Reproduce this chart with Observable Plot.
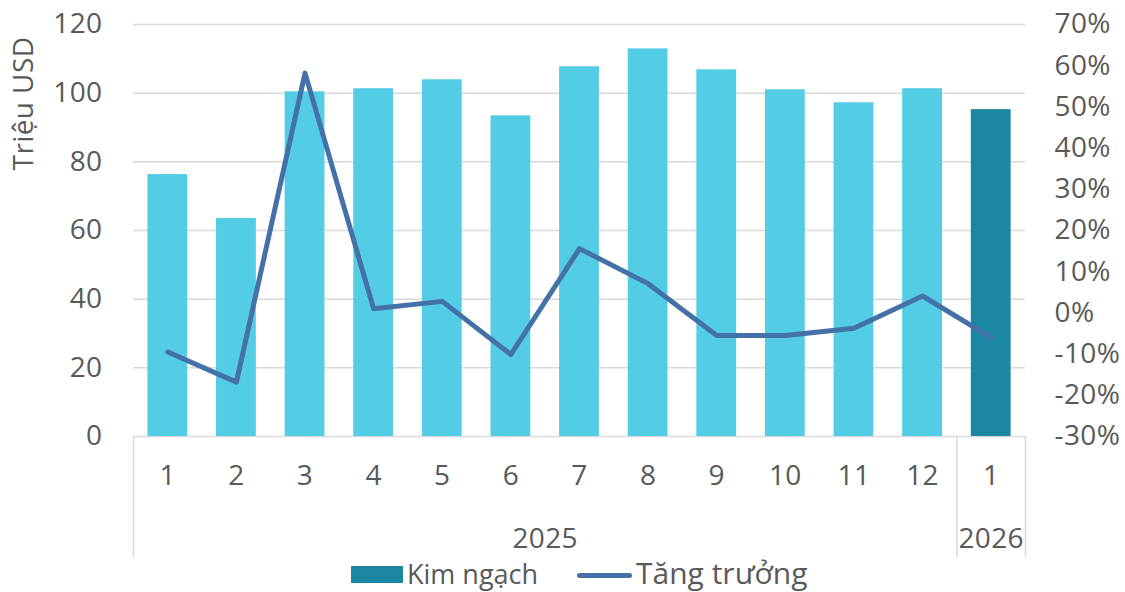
<!DOCTYPE html>
<html>
<head>
<meta charset="utf-8">
<script src="https://cdn.jsdelivr.net/npm/d3@7"></script>
<script src="https://cdn.jsdelivr.net/npm/@observablehq/plot@0.6"></script>
<style>
  html, body { margin: 0; padding: 0; background: #fff; }
  #wrap { position: relative; width: 1125px; height: 592px; font-family: "Open Sans", sans-serif; color: #595959; }
  #chart svg text { letter-spacing: 0.4px; }
  .lg { position: absolute; }
  .sw-bar { left: 351px; top: 566px; width: 52px; height: 17px; background: #1A88A2; }
  .sw-line { left: 577px; top: 573px; width: 55px; height: 5px; border-radius: 3px; background: #4472A8; }
  .l1 { left: 407px; top: 555px; font-size: 27px; line-height: 38px; }
  .l2 { left: 636px; top: 553px; font-size: 30px; line-height: 40px; }
</style>
</head>
<body>
<div id="wrap">
  <div id="chart"></div>
  <div class="lg sw-bar"></div><span class="lg l1">Kim ngạch</span>
  <div class="lg sw-line"></div><span class="lg l2">Tăng trưởng</span>
</div>
<script>
// ---- data ----
const months = ["1","2","3","4","5","6","7","8","9","10","11","12","1"];
const years  = ["2025","2025","2025","2025","2025","2025","2025","2025","2025","2025","2025","2025","2026"];
const kimNgach = [76.3, 63.5, 100.4, 101.3, 103.9, 93.4, 107.7, 112.9, 106.8, 101.0, 97.2, 101.3, 95.2]; // Triệu USD
const tangTruong = [-9.5, -16.8, 58.2, 1.0, 2.8, -10.1, 15.6, 7.1, -5.5, -5.5, -3.7, 4.1, -6.0]; // %
const leftTicks = [0, 20, 40, 60, 80, 100, 120];
const rightTicks = [-30, -20, -10, 0, 10, 20, 30, 40, 50, 60, 70];
const yTitle = "Triệu USD";

// ---- build ----
const lightColor = "#53CDE5";
const darkColor = "#1A88A2";
const lineColor = "#4472A8";
const textColor = "#595959";
const fs = 28;

const data = months.map((m, i) => ({pos: i + 1, month: m, year: years[i], v: kimNgach[i], g: tangTruong[i]}));

// map right-axis (%) domain [-30,70] onto left domain [0,120]
const rMin = rightTicks[0], rMax = rightTicks[rightTicks.length - 1];
const lMin = leftTicks[0], lMax = leftTicks[leftTicks.length - 1];
const toLeft = g => lMin + (g - rMin) * (lMax - lMin) / (rMax - rMin);
const fromLeft = v => rMin + (v - lMin) * (rMax - rMin) / (lMax - lMin);

const yearGroups = d3.groups(data, d => d.year).map(([y, rows]) => ({
  year: y, center: d3.mean(rows, r => r.pos), lo: d3.min(rows, r => r.pos) - 0.5, hi: d3.max(rows, r => r.pos) + 0.5
}));
const boundaries = Array.from(new Set(yearGroups.flatMap(g => [g.lo, g.hi])));
const lastYear = years[years.length - 1];
const barHalf = 0.29;

const chart = Plot.plot({
  width: 1125,
  height: 558,
  marginLeft: 133,
  marginRight: 100,
  marginTop: 24,
  marginBottom: 122,
  x: {domain: [0.5, months.length + 0.5], axis: null},
  y: {domain: [lMin, lMax], axis: null},
  color: {type: "identity"},
  style: {fontFamily: "Open Sans", fontSize: fs + "px", color: textColor, background: "white", overflow: "visible"},
  marks: [
    Plot.ruleY(leftTicks, {stroke: "#d9d9d9", strokeWidth: 1.5}),
    Plot.rectY(data, {x1: d => d.pos - barHalf, x2: d => d.pos + barHalf, y: "v",
      fill: d => d.year === lastYear ? darkColor : lightColor}),
    Plot.line(data, {x: "pos", y: d => toLeft(d.g), stroke: lineColor, strokeWidth: 5,
      strokeLinejoin: "round", strokeLinecap: "round"}),
    Plot.ruleX(boundaries, {y1: 0, y2: 0, insetBottom: -121, stroke: "#d9d9d9", strokeWidth: 1.5}),
    Plot.axisY(leftTicks, {anchor: "left", label: null, tickSize: 0, tickPadding: 31, color: textColor, fontSize: fs}),
    Plot.axisY(rightTicks.map(toLeft), {anchor: "right", label: null, tickSize: 0, tickPadding: 29, color: textColor, fontSize: fs,
      tickFormat: v => `${Math.round(fromLeft(v))}%`}),
    Plot.axisX(data.map(d => d.pos), {anchor: "bottom", label: null, tickSize: 0, tickPadding: 29, color: textColor, fontSize: fs,
      tickFormat: p => months[p - 1]}),
    Plot.text(yearGroups, {x: "center", text: "year", frameAnchor: "bottom", lineAnchor: "middle", dy: 103, fill: textColor, fontSize: fs}),
    Plot.text([yTitle], {text: d => d, frameAnchor: "top-left", textAnchor: "middle", lineAnchor: "middle",
      rotate: -90, dx: -109, dy: 79, fill: textColor, fontSize: fs})
  ]
});
document.getElementById("chart").appendChild(chart);
</script>
</body>
</html>
